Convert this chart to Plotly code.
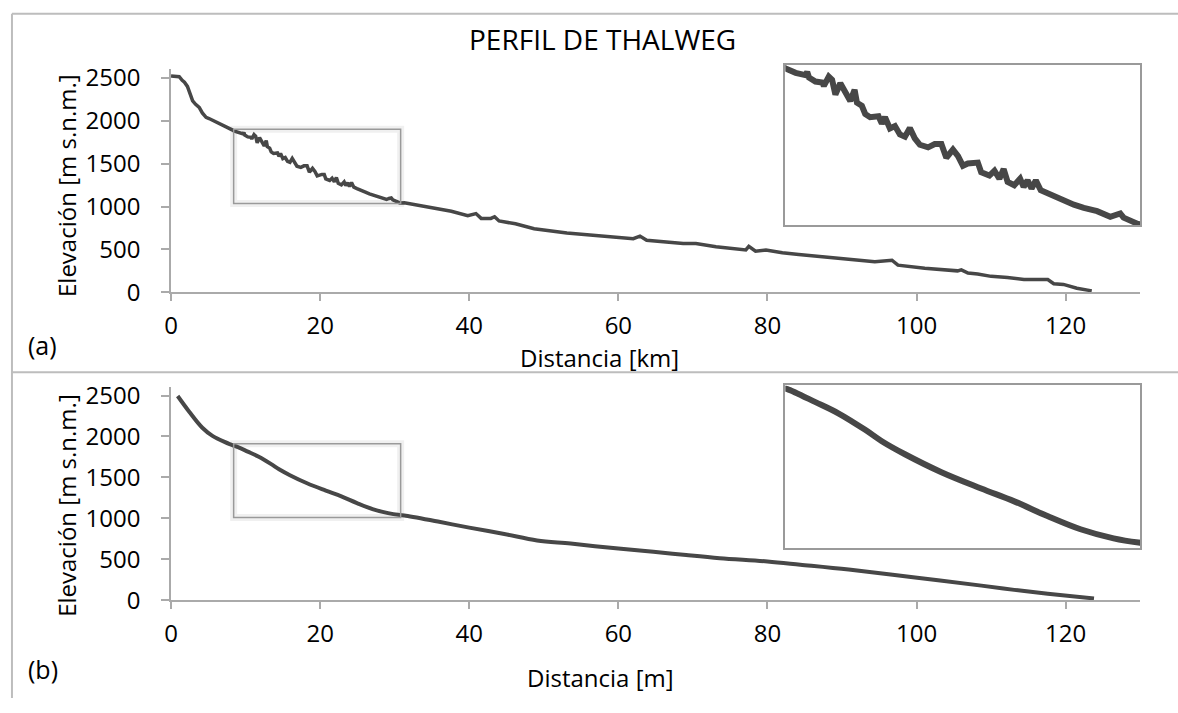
import plotly.graph_objects as go

# ---------------- data ----------------
# (a) Perfil de thalweg (raw DEM profile) -- distance [km], elevation [m s.n.m.]
dist_a = [0, 1.1, 1.5, 1.8, 2.2, 2.67, 2.9, 3.3, 3.78, 4.2, 4.7, 5.1, 5.6, 6.4, 7.3, 8.2,
          8.42, 9.05, 9.67, 9.78, 9.89, 10.3, 10.72, 10.83, 11.14, 11.35, 11.56, 11.87,
          12.18, 12.5, 12.77, 12.92, 13.23, 13.44, 13.75, 14.28, 14.49, 14.69, 15.0,
          15.32, 15.63, 15.95, 16.26, 16.57, 16.89, 17.41, 17.83, 18.25, 18.56, 18.98,
          19.3, 19.61, 19.92, 20.24, 20.55, 20.76, 21.28, 21.6, 21.91, 22.18, 22.43,
          22.85, 23.22, 23.44, 23.69, 23.94, 24.21, 24.52, 24.94, 25.26, 25.57, 25.99,
          26.61, 27.24, 28.08, 28.91, 29.23, 29.54, 29.75, 30.17, 30.69,
          31.3, 33.1, 35.2, 37.6, 39.8, 40.9, 41.6, 42.9, 43.4, 44.0, 46.2, 48.7, 53.1, 57.6,
          62.0, 62.9, 63.8, 68.7, 70.4, 73.1, 77.1, 77.5, 78.4, 79.8, 82.0, 84.2, 87.8,
          91.0, 94.4, 96.7, 97.5, 101.1, 105.5, 106.0, 106.9, 108.2, 110.0, 112.2, 114.4,
          117.6, 118.4, 119.7, 121.5, 123.5]
elev_a = [2520, 2512, 2470, 2448, 2399, 2268, 2230, 2190, 2155, 2090, 2038, 2025, 2005, 1975, 1935, 1893,
          1881, 1858, 1846, 1863, 1833, 1811, 1806, 1788, 1837, 1820, 1741, 1802,
          1758, 1706, 1767, 1697, 1680, 1636, 1619, 1624, 1584, 1619, 1558,
          1571, 1526, 1514, 1561, 1505, 1470, 1456, 1474, 1474, 1400, 1444,
          1409, 1357, 1369, 1374, 1374, 1322, 1304, 1330, 1287, 1339, 1270,
          1252, 1287, 1243, 1278, 1234, 1278, 1225, 1208, 1194, 1187, 1170,
          1147, 1130, 1112, 1082, 1094, 1100, 1077, 1060, 1042,
          1045, 1019, 985, 945, 892, 918, 862, 862, 881, 832, 799, 742, 693, 656,
          626, 656, 607, 569, 569, 532, 495, 536, 479, 495, 461, 442, 412,
          385, 356, 375, 318, 281, 251, 262, 225, 214, 187, 175, 150,
          150, 101, 93, 48, 18]

# (b) Perfil suavizado -- distance [m], elevation [m s.n.m.]
dist_b = [0.89, 2.44, 4.2, 5.56, 8.36, 8.53, 10.3, 11.77, 13.44, 14.49, 15.95, 18.25,
          20.76, 22.85, 24.94, 27.03, 29.12, 30.69, 31.3, 35.8, 40.0, 44.7, 49.1, 53.6,
          60.0, 64.7, 69.1, 73.6, 80.0, 84.4, 90.9, 99.8, 108.7, 113.1, 117.6, 123.8]
elev_b = [2495, 2303, 2107, 2008, 1890, 1887, 1815, 1752, 1662, 1599, 1527, 1428,
          1338, 1267, 1186, 1113, 1063, 1040, 1035, 960, 886, 808, 729, 691,
          630, 592, 551, 513, 472, 433, 373, 276, 177, 125, 79, 20]

# zoom windows
zoom_x = [8.4, 30.8]
zoom_y_a = [1035, 1900]
zoom_y_b = [1010, 1910]

x_ticks = [0, 20, 40, 60, 80, 100, 120]
y_ticks = [0, 500, 1000, 1500, 2000, 2500]

title_text = "PERFIL DE THALWEG"
ytitle = "Elevación [m s.n.m.]"
xtitle_a = "Distancia [km]"
xtitle_b = "Distancia [m]"

# ---------------- figure ----------------
W, H = 1178, 713
FONT = "Open Sans"
TXT_C = "#000000"
LINE_C = "#474747"
AX_C = "#aaaaaa"
BOX_C = "#9a9a9a"


def px(x):
    return x / W


def py(y):
    return 1 - y / H


fig = go.Figure()

fig.add_trace(go.Scatter(x=dist_a, y=elev_a, mode="lines", xaxis="x", yaxis="y",
                         line=dict(color=LINE_C, width=3.5), showlegend=False))
fig.add_trace(go.Scatter(x=dist_a, y=elev_a, mode="lines", xaxis="x2", yaxis="y2",
                         line=dict(color=LINE_C, width=6), showlegend=False))
fig.add_trace(go.Scatter(x=dist_b, y=elev_b, mode="lines", xaxis="x3", yaxis="y3",
                         line=dict(color=LINE_C, width=4), showlegend=False,
                         line_shape="spline"))
fig.add_trace(go.Scatter(x=dist_b, y=elev_b, mode="lines", xaxis="x4", yaxis="y4",
                         line=dict(color=LINE_C, width=6), showlegend=False,
                         line_shape="spline"))

tickfont = dict(family=FONT, size=24, color=TXT_C)

main_x = dict(range=[0, 130], tickvals=x_ticks, ticks="outside", ticklen=7,
              tickcolor=AX_C, tickwidth=1.5, showline=True, linecolor=AX_C,
              linewidth=1.5, showgrid=False, zeroline=False, tickfont=tickfont,
              ticklabelstandoff=4, fixedrange=True)
main_y = dict(range=[0, 2600], tickvals=y_ticks, ticks="outside", ticklen=8,
              tickcolor=AX_C, tickwidth=1.5, showline=True, linecolor=AX_C,
              linewidth=1.5, showgrid=False, zeroline=False, tickfont=tickfont,
              ticklabelstandoff=16, fixedrange=True)
inset_ax = dict(showline=True, mirror=True, linecolor=BOX_C, linewidth=1.5,
                showticklabels=False, ticks="", showgrid=False, zeroline=False,
                fixedrange=True)

xd = [px(165), px(1140)]
fig.update_layout(
    width=W, height=H,
    margin=dict(l=0, r=0, t=0, b=0),
    paper_bgcolor="white", plot_bgcolor="white",
    xaxis=dict(main_x, domain=xd, anchor="y"),
    yaxis=dict(main_y, domain=[py(293.3), py(62.2)], anchor="x"),
    xaxis2=dict(inset_ax, domain=[px(783), px(1140)], range=zoom_x, anchor="y2"),
    yaxis2=dict(inset_ax, domain=[py(224), py(58)], range=zoom_y_a, anchor="x2"),
    xaxis3=dict(main_x, domain=xd, anchor="y3"),
    yaxis3=dict(main_y, domain=[py(611.7), py(391.6)], anchor="x3"),
    xaxis4=dict(inset_ax, domain=[px(783), px(1140)], range=zoom_x, anchor="y4"),
    yaxis4=dict(inset_ax, domain=[py(557.7), py(389)], range=zoom_y_b, anchor="x4"),
    showlegend=False,
)

shapes = []
# panel frames
frame = dict(type="line", xref="paper", yref="paper", line=dict(color="#bdbdbd", width=2))
shapes.append(dict(frame, x0=px(5), x1=1, y0=py(5), y1=py(5)))
shapes.append(dict(frame, x0=px(5), x1=px(5), y0=py(5), y1=0))
shapes.append(dict(frame, x0=px(5), x1=1, y0=py(376), y1=py(376)))
# zoom rectangles with a soft shadow
for xr, yr, zy in (("x", "y", zoom_y_a), ("x3", "y3", zoom_y_b)):
    shapes.append(dict(type="rect", xref=xr, yref=yr, x0=zoom_x[0], x1=zoom_x[1],
                       y0=zy[0], y1=zy[1], layer="below",
                       line=dict(color="rgba(0,0,0,0.06)", width=7)))
    shapes.append(dict(type="rect", xref=xr, yref=yr, x0=zoom_x[0], x1=zoom_x[1],
                       y0=zy[0], y1=zy[1],
                       line=dict(color=BOX_C, width=1.5)))
fig.update_layout(shapes=shapes)

ann = []
ann.append(dict(text=title_text, x=px(599), y=py(31), xref="paper", yref="paper",
                showarrow=False, font=dict(family=FONT, size=28, color=TXT_C),
                xanchor="center", yanchor="middle"))
for yc in (182.5, 513.5):
    ann.append(dict(text=ytitle, x=px(60), y=py(yc), xref="paper", yref="paper",
                    showarrow=False, textangle=-90,
                    font=dict(family=FONT, size=24, color=TXT_C),
                    xanchor="center", yanchor="middle"))
ann.append(dict(text=xtitle_a, x=px(596), y=py(361), xref="paper", yref="paper",
                showarrow=False, font=dict(family=FONT, size=24, color=TXT_C),
                xanchor="center", yanchor="middle"))
ann.append(dict(text=xtitle_b, x=px(597), y=py(692), xref="paper", yref="paper",
                showarrow=False, font=dict(family=FONT, size=24, color=TXT_C),
                xanchor="center", yanchor="middle"))
ann.append(dict(text="(a)", x=px(19), y=py(348), xref="paper", yref="paper",
                showarrow=False, font=dict(family=FONT, size=25, color=TXT_C),
                xanchor="left", yanchor="middle"))
ann.append(dict(text="(b)", x=px(19), y=py(683), xref="paper", yref="paper",
                showarrow=False, font=dict(family=FONT, size=25, color=TXT_C),
                xanchor="left", yanchor="middle"))
fig.update_layout(annotations=ann)

fig.write_html("out.html")
